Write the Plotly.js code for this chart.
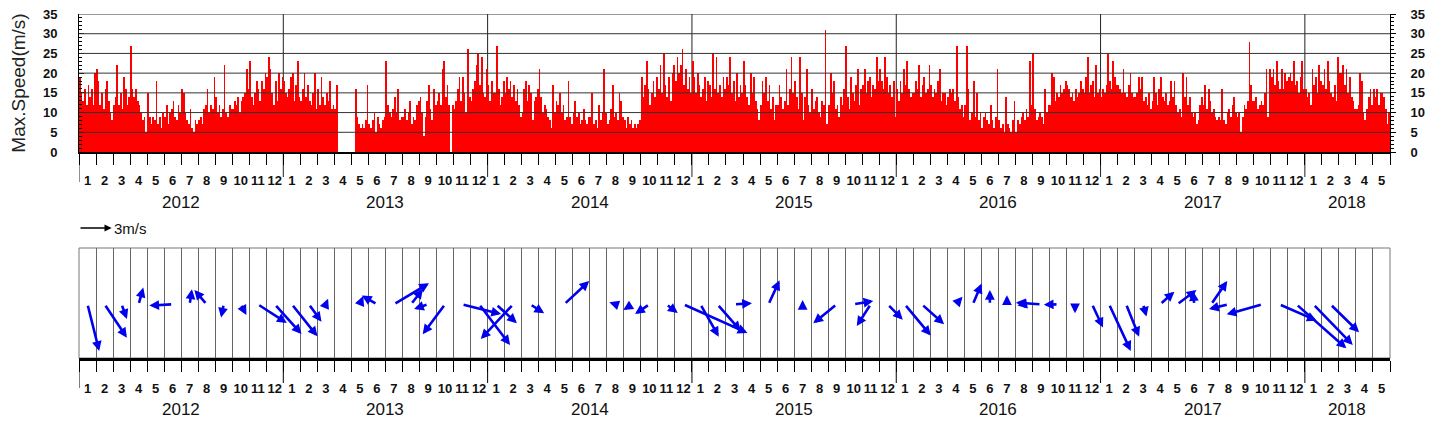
<!DOCTYPE html>
<html><head><meta charset="utf-8">
<script src="https://cdn.plot.ly/plotly-3.0.1.min.js"></script>
<style>html,body{margin:0;padding:0;background:#fff}#chart{width:1437px;height:427px}</style>
</head><body><div id="chart"></div>
<script>
// ---------------- data ----------------
const years = [2012, 2013, 2014, 2015, 2016, 2017, 2018];
const monthsPerYear = [12, 12, 12, 12, 12, 12, 5];
const samplesPerMonth = 10; // ~3-day maxima per month

const speed2012 = [
  19,15,13,16,12,17,14,16,12,20,  21,18,12,15,11,16,18,13,10,8,
  12,14,22,12,15,11,19,16,12,14,  27,16,14,16,13,12,10,8,9,5,
  15,9,7,9,8,18,7,9,6,10,         9,12,7,10,11,13,9,8,12,10,
  16,15,10,8,7,11,6,5,8,7,        8,9,7,11,12,16,10,12,11,19,
  14,10,12,9,11,22,10,9,12,11,    11,13,12,14,10,13,14,15,21,16,
  23,14,12,15,18,16,13,18,16,20,  19,24,21,15,12,18,13,20,16,19
];
const speed2013 = [
  18,15,14,16,19,20,13,17,23,14,  13,16,20,14,17,13,12,15,20,11,
  16,12,19,14,12,15,13,18,11,12,  11,17,null,null,null,null,null,null,null,null,
  null,null,16,9,7,6,7,6,8,17,    7,6,8,10,5,9,7,6,8,9,
  23,12,10,9,11,14,10,16,8,9,     9,11,8,10,13,7,9,8,12,13,
  14,10,4,9,13,17,11,8,16,12,     13,15,12,21,23,14,17,12,0,12,
  11,13,16,19,13,19,15,10,26,14,  13,16,18,22,25,17,24,15,14,21
];
const speed2014 = [
  17,13,18,15,15,27,16,12,14,18,  15,19,16,18,14,17,13,16,12,9,
  10,16,18,13,17,15,8,13,14,16,   21,14,10,12,11,9,8,6,17,10,
  13,12,15,10,12,8,9,18,9,7,      10,13,9,10,7,8,11,8,7,9,
  9,15,7,8,6,12,8,10,21,10,       7,8,11,17,9,10,8,15,13,9,
  8,6,9,7,8,6,7,6,7,8,            19,14,17,23,16,12,15,18,14,19,
  16,22,15,25,17,14,19,13,20,22,  18,24,20,22,26,17,21,16,19,15
];
const speed2015 = [
  23,19,15,20,17,14,16,19,13,18,  17,14,25,16,24,15,17,14,19,16,
  19,17,24,15,18,13,20,14,17,15,  23,17,14,12,20,15,19,13,11,8,
  12,18,15,19,13,17,11,14,8,12,   12,17,14,11,13,21,12,16,24,15,
  18,14,11,24,15,8,14,21,12,10,   16,11,13,14,10,9,13,12,31,7,
  12,20,15,18,11,12,9,14,12,16,   27,14,11,19,15,13,17,21,12,16,
  17,21,15,18,19,14,17,16,24,18,  21,18,16,24,19,15,17,14,18,9
];
const speed2016 = [
  16,13,18,15,21,17,23,16,14,15,  15,18,16,22,14,17,19,15,16,22,
  17,14,16,15,18,21,13,15,15,12,  14,16,15,16,13,27,14,11,12,9,
  12,27,16,8,10,18,9,15,8,10,     6,9,10,8,7,12,8,6,9,21,
  8,6,7,5,14,7,6,5,8,13,          5,8,7,9,10,8,11,9,23,12,
  25,11,8,9,10,9,7,16,10,12,      12,20,19,13,15,14,17,15,16,18,
  17,16,14,15,13,16,14,15,18,16,  15,19,24,15,17,18,14,22,15,16
];
const speed2017 = [
  14,16,15,17,25,18,16,23,19,17,  17,16,15,21,15,14,17,20,15,14,
  14,15,19,16,19,13,14,12,15,11,  13,19,15,12,16,19,14,13,15,12,
  13,18,14,18,12,10,11,9,20,14,   19,12,14,10,9,10,7,8,12,14,
  12,17,11,16,13,10,11,9,8,9,     8,16,8,7,10,11,9,12,14,10,
  9,10,5,9,12,11,13,28,17,13,     13,14,11,12,13,12,15,21,9,21,
  19,21,17,23,18,16,21,16,20,18,  19,20,18,23,17,18,15,19,23,16
];
const speed2018 = [
  16,14,15,12,21,17,19,15,22,18,  17,21,16,23,18,15,14,17,13,24,
  20,20,22,17,21,15,19,14,13,11,  11,12,20,18,10,8,11,14,16,12,
  16,14,16,12,15,15,14,11,7,10
];

// monthly mean wind vectors (m/s), Jan 2012 .. May 2018
const vecU = [
  1.07, 2.05, 0.49, 0.43, null, -2.14, 0.21, -1.13, -0.24, 0.52, 2.66, 2.45,
  2.35, 1.16, 0.20, null, 0.30, -1.38, 3.21, 1.10, -1.28, -2.05, 3.58, 2.84,
  1.90, -2.97, 1.28, 0.35, 2.29, -0.20, 0.00, -0.55, -0.83, -1.31, 1.04, 5.87,
  1.68, 2.14, 1.60, -0.10, 1.01, -0.15, 0.00, 0.10, -2.14, 1.80, -1.28, 1.38,
  2.39, 2.05, 0.35, 0.61, 0.80, 0.00, 0.00, -0.60, -2.30, -1.30, 0.00, 1.00,
  1.99, 1.19, 0.31, 1.31, 1.77, -0.10, 1.47, -1.77, -0.20, -3.27, 3.43, 4.59,
  3.61, 2.63, -0.30, -0.10, 0.15
];
const vecV = [
  -4.28, -3.06, -1.35, 1.53, null, -0.12, 1.38, 1.32, -1.22, -0.98, -1.71, -2.72,
  -2.94, -1.59, 0.50, null, 0.75, 0.80, 1.93, 1.40, -0.43, -2.75, -0.89, -3.73,
  -1.74, -3.18, -0.83, 0.10, 2.14, -0.15, -0.15, 0.18, -0.52, -0.89, -0.80, -2.63,
  -2.97, -2.45, 0.10, -0.30, 2.20, -0.30, 0.40, 0.25, -1.74, 0.30, -1.99, -1.41,
  -2.87, -1.83, -0.10, 0.70, 1.90, 1.31, 0.83, -0.10, 0.15, -0.05, -0.83, -2.14,
  -4.28, -2.97, -1.13, 1.16, 1.31, 1.20, 2.14, -0.43, 0.10, -0.92, -1.50, -4.04,
  -3.73, -2.57, 0.10, 0.20, 0.10
];
const scaleArrowValue = 3; // m/s
const scaleArrowLabel = '3m/s';
const yTitle = 'Max.Speed(m/s)';

// ---------------- build ----------------
const W = 1437, H = 427;
const M = {l: 79, r: 47, t: 14, b: 69};
const plotW = W - M.l - M.r, plotH = H - M.t - M.b;
const py = px => (H - M.b - px) / plotH;       // page pixel row -> paper y

const speedAll = [].concat(speed2012, speed2013, speed2014, speed2015, speed2016, speed2017, speed2018);
const nMonths = monthsPerYear.reduce((a, b) => a + b, 0);

const monthNums = [];
const yearStart = [];
years.forEach((y, i) => {
  yearStart.push(monthNums.length);
  for (let m = 1; m <= monthsPerYear[i]; m++) monthNums.push(m);
});
const monthCenters = monthNums.map((_, i) => i + 0.5);

const barX = speedAll.map((_, i) => Math.floor(i / samplesPerMonth) + ((i % samplesPerMonth) + 0.5) / samplesPerMonth);

const FONT = 'Liberation Sans, Arial, Helvetica, sans-serif';
const topDomain = [py(152), 1];
const botDomain = [0, py(248)];
const y2Range = [-4.927, 5.165];

const traces = [
  {type: 'bar', x: barX, y: speedAll, width: 1 / samplesPerMonth, xaxis: 'x', yaxis: 'y',
   marker: {color: '#ff0000', line: {width: 0}}, hoverinfo: 'skip'},
  {type: 'scatter', x: [], y: [], xaxis: 'x', yaxis: 'y3', hoverinfo: 'skip'},
  {type: 'scatter', x: [], y: [], xaxis: 'x2', yaxis: 'y2', hoverinfo: 'skip'}
];

const monthAxis = (anchor, standoff, lw) => ({
  anchor, range: [0, nMonths], domain: [0, 1],
  tickmode: 'array', tickvals: monthCenters, ticktext: monthNums.map(String),
  ticks: '', showgrid: false, zeroline: false,
  showline: true, linecolor: '#000', linewidth: lw,
  tickfont: {family: FONT, size: 13, color: '#111', weight: 'bold'},
  ticklabelstandoff: standoff,
  minor: {tickmode: 'linear', tick0: 0, dtick: 1, ticks: 'outside', ticklen: 11, tickwidth: 1, tickcolor: '#000'}
});

const xaxis = monthAxis('y', 15, 2);
const xaxis2 = monthAxis('y2', 17, 2.5);
xaxis2.minor.showgrid = true;
xaxis2.minor.gridcolor = '#666';
xaxis2.minor.gridwidth = 1;

const speedTicks = [0, 5, 10, 15, 20, 25, 30, 35];
const yaxis = {
  domain: topDomain, anchor: 'x', range: [0, 35], tickmode: 'array', tickvals: speedTicks,
  ticks: 'inside', ticklen: 5, tickcolor: '#000', showline: true, linecolor: '#000', linewidth: 1,
  showgrid: false, zeroline: false,
  tickfont: {family: FONT, size: 13, color: '#111', weight: 'bold'}, ticklabelstandoff: 18,
  minor: {tickmode: 'linear', tick0: 0, dtick: 1, ticks: 'inside', ticklen: 3, tickcolor: '#000'},
  title: {text: yTitle, font: {family: FONT, size: 19, color: '#222'}, standoff: 12}
};
const yaxis3 = {
  overlaying: 'y', side: 'right', anchor: 'x', range: [0, 35], tickmode: 'array', tickvals: speedTicks,
  ticks: 'outside', ticklen: 5, tickcolor: '#000', showline: true, linecolor: '#000', linewidth: 1,
  showgrid: false, zeroline: false,
  tickfont: {family: FONT, size: 13, color: '#111', weight: 'bold'}, ticklabelstandoff: 12,
  minor: {tickmode: 'linear', tick0: 0, dtick: 1, ticks: 'outside', ticklen: 3, tickcolor: '#000'}
};
const yaxis2 = {domain: botDomain, anchor: 'x2', range: y2Range, visible: false, fixedrange: true};

// shapes
const shapes = [];
speedTicks.filter(v => v > 0).forEach(v => shapes.push({
  type: 'line', xref: 'x domain', yref: 'y', x0: 0, x1: 1, y0: v, y1: v,
  line: {color: '#333', width: 1}, layer: 'above'}));
yearStart.forEach((s, i) => {
  shapes.push({type: 'line', xref: 'x', yref: 'paper', x0: s, x1: s,
    y0: py(i === 0 ? 182 : 177), y1: i === 0 ? py(152) : 1, line: {color: '#222', width: 1}, layer: 'below'});
  shapes.push({type: 'line', xref: 'x2', yref: 'paper', x0: s, x1: s,
    y0: py(i === 0 ? 388 : 383), y1: 0, line: {color: '#000', width: 1}, layer: 'above'});
});
shapes.push({type: 'rect', xref: 'x2 domain', yref: 'y2 domain', x0: 0, x1: 1, y0: 0, y1: 1,
  line: {color: '#777', width: 1}, layer: 'below'});

// annotations
const annotations = [];
const pxPerMonth = plotW / nMonths;
const pxPerMs = (plotH * (botDomain[1] - botDomain[0])) / (y2Range[1] - y2Range[0]);
const kx = pxPerMs / pxPerMonth; // month units per m/s
const ARROW = {arrowhead: 2, arrowsize: 0.75, arrowwidth: 2.6, arrowcolor: '#0000ee', standoff: 0, startstandoff: 0, text: '', showarrow: true};

vecU.forEach((u, i) => {
  const v = vecV[i];
  if (u === null || v === null) return;
  annotations.push(Object.assign({}, ARROW, {
    xref: 'x2', yref: 'y2', axref: 'x2', ayref: 'y2',
    ax: monthCenters[i], ay: 0, x: monthCenters[i] + u * kx, y: v}));
});

years.forEach((y, i) => {
  const c = yearStart[i] + monthsPerYear[i] / 2;
  [[ 'x', py(202)], ['x2', py(409)]].forEach(([xr, yy]) => annotations.push({
    xref: xr, yref: 'paper', x: c, y: yy, text: String(y), showarrow: false,
    xanchor: 'center', yanchor: 'middle', font: {family: FONT, size: 17, color: '#111'}}));
});

annotations.push(Object.assign({}, ARROW, {
  xref: 'x2', yref: 'paper', axref: 'x2', ayref: 'pixel',
  ax: 0, ay: 0, x: scaleArrowValue * kx, y: py(228), arrowwidth: 1.6, arrowsize: 0.9, arrowcolor: '#000'}));
annotations.push({xref: 'x2', yref: 'paper', x: scaleArrowValue * kx, y: py(228), text: scaleArrowLabel,
  showarrow: false, xanchor: 'left', yanchor: 'middle', xshift: 0,
  font: {family: 'Liberation Sans Narrow, Liberation Sans, Arial, sans-serif', size: 15, color: '#111'}});

const layout = {
  width: W, height: H, margin: M, paper_bgcolor: '#fff', plot_bgcolor: 'rgba(0,0,0,0)',
  showlegend: false, bargap: 0, hovermode: false,
  xaxis, xaxis2, yaxis, yaxis2, yaxis3, shapes, annotations
};

Plotly.newPlot('chart', traces, layout, {displayModeBar: false, staticPlot: true});
</script>
</body></html>
